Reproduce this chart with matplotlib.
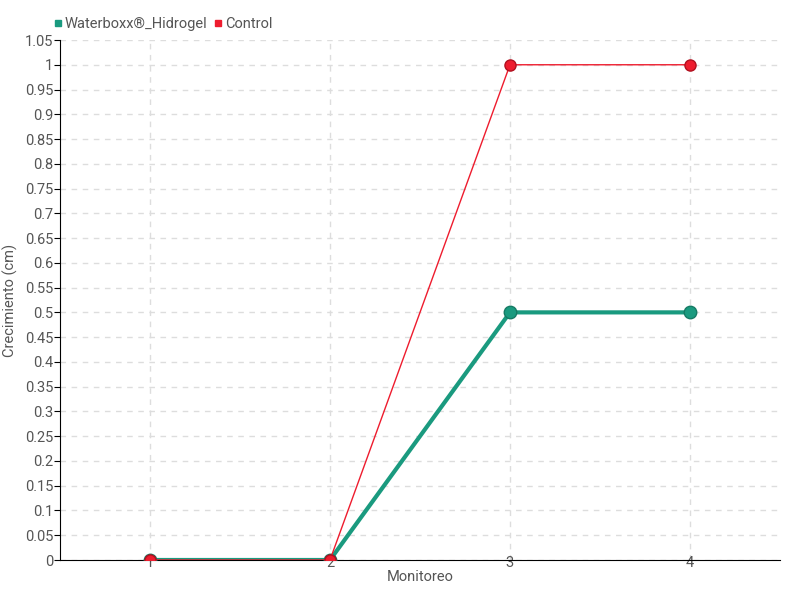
import numpy as np
import matplotlib.pyplot as plt
from matplotlib.lines import Line2D

plt.rcParams['font.family'] = ['Roboto', 'DejaVu Sans']

monitoreo = [1, 2, 3, 4]
waterboxx = [0, 0, 0.5, 0.5]
control = [0, 0, 1, 1]
series_names = ['Waterboxx®_Hidrogel', 'Control']

green = '#1a9a7f'
red = '#ee1c2e'
txt = '#555555'

fig = plt.figure(figsize=(8, 6), dpi=100)
ax = fig.add_axes([60 / 800, 40 / 600, 720 / 800, 520 / 600])

ax.plot(monitoreo, waterboxx, color=green, lw=3, marker='o', ms=9,
        mfc=green, mec='#157a64', mew=1, zorder=3)
ax.plot(monitoreo, control, color=red, lw=1, marker='o', ms=8,
        mfc=red, mec='#b0101f', mew=1, zorder=4)

yt = np.round(np.arange(0, 1.051, 0.05), 2)
ax.set_xlim(0.5, 4.5)
ax.set_ylim(0, 1.05)
ax.set_xticks(monitoreo)
ax.set_yticks(yt)
ax.set_yticklabels(['%g' % v for v in yt])
ax.grid(True, color='#dddddd', linestyle=(0, (4, 4)), lw=1)
ax.set_axisbelow(True)
for s in ['top', 'right']:
    ax.spines[s].set_visible(False)
ax.spines['left'].set_color('black')
ax.spines['bottom'].set_color('black')
ax.tick_params(axis='y', length=4, labelsize=10.5, labelcolor=txt, pad=1)
ax.tick_params(axis='x', length=0, labelsize=10.5, labelcolor=txt, pad=-3)

ax.set_xlabel('Monitoreo', fontsize=10.5, color=txt, labelpad=0)
ax.set_ylabel('Crecimiento (cm)', fontsize=10.5, color=txt)
ax.yaxis.set_label_coords(-42 / 720, 0.5)

handles = [Line2D([], [], ls='', marker='s', ms=5, color=green),
           Line2D([], [], ls='', marker='s', ms=5, color=red)]
fig.legend(handles, series_names, loc='upper left', bbox_to_anchor=(40 / 800, 1 - 4 / 600),
           ncol=2, frameon=False, fontsize=10.5, handlelength=0.6,
           handletextpad=0.2, columnspacing=0.4, labelcolor=txt)

fig.savefig('out.png', dpi=100)
